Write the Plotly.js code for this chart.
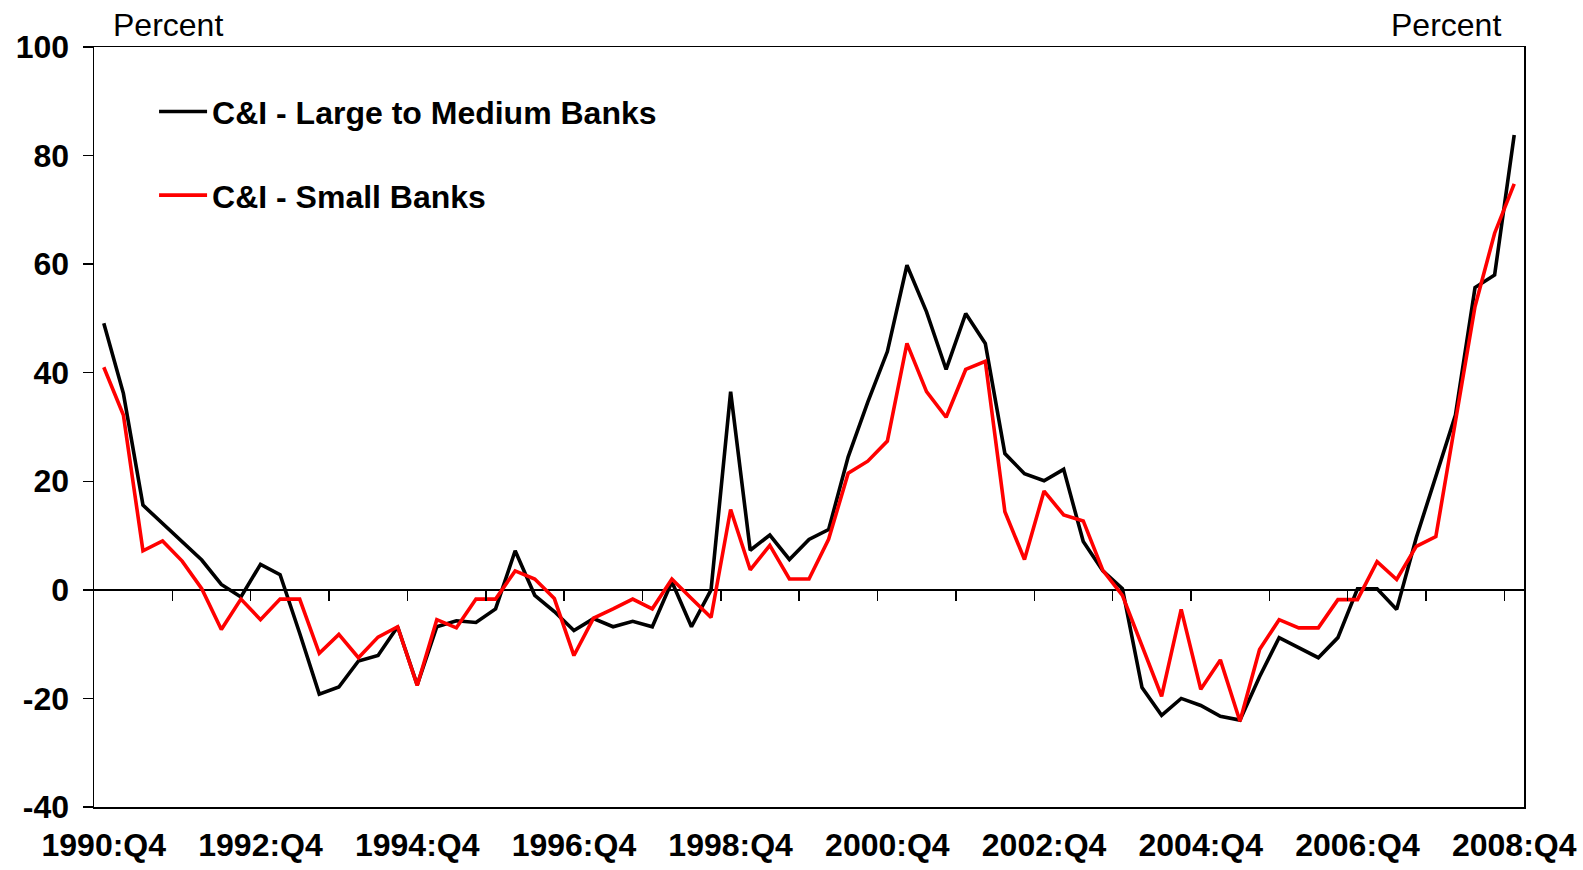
<!DOCTYPE html>
<html>
<head>
<meta charset="utf-8">
<script src="https://cdn.plot.ly/plotly-3.0.1.min.js"></script>
<style>
html,body{margin:0;padding:0;background:#fff;}
#chart{width:1583px;height:870px;}
</style>
</head>
<body>
<div id="chart"></div>
<script>
// Quarters 1990:Q4 ... 2008:Q4 (73 quarters)
var quarters = [];
(function(){
  var y = 1990, q = 4;
  for (var k = 0; k < 73; k++) {
    quarters.push(y + ':Q' + q);
    q++; if (q > 4) { q = 1; y++; }
  }
})();
var qIndex = quarters.map(function(_, i){ return i; });

var largeMedium = [
  49.1, 36.2, 15.6, 12.2, 8.8, 5.5, 1.0, -1.3, 4.7, 2.8,
  -8.0, -19.2, -17.9, -13.1, -12.1, -6.8, -17.5, -6.8, -5.7, -6.0,
  -3.5, 7.2, -1.0, -4.0, -7.5, -5.3, -6.8, -5.8, -6.8, 1.5,
  -6.8, 0.0, 36.5, 7.3, 10.1, 5.6, 9.3, 11.1, 24.5, 34.6,
  43.9, 59.8, 51.2, 40.6, 50.9, 45.4, 25.1, 21.4, 20.1, 22.2,
  8.9, 3.5, 0.2, -18.0, -23.1, -20.0, -21.3, -23.3, -24.0, -16.0,
  -8.8, -10.6, -12.5, -8.8, 0.2, 0.2, -3.6, 9.6, 21.0, 32.2,
  55.7, 58.0, 83.8
];
var small = [
  41.0, 32.2, 7.2, 9.0, 5.3, 0.2, -7.3, -1.7, -5.5, -1.7,
  -1.7, -11.7, -8.2, -12.5, -8.7, -6.8, -17.6, -5.5, -7.0, -1.7,
  -1.7, 3.5, 2.0, -1.6, -12.1, -5.2, -3.5, -1.7, -3.5, 2.0,
  -1.6, -5.1, 14.8, 3.7, 8.2, 2.0, 2.0, 9.3, 21.5, 23.7,
  27.4, 45.4, 36.5, 31.8, 40.6, 42.1, 14.4, 5.6, 18.2, 13.8,
  12.7, 3.6, -1.0, -10.5, -19.6, -3.6, -18.3, -12.9, -24.2, -11.0,
  -5.5, -7.0, -7.0, -1.8, -1.8, 5.2, 1.9, 8.0, 9.8, 31.0,
  52.2, 65.7, 74.8
];
var seriesNames = ['C&I - Large to Medium Banks', 'C&I - Small Banks'];
var seriesColors = ['#000000', '#ff0000'];

var yTickVals = [-40, -20, 0, 20, 40, 60, 80, 100];
var yTickText = ['-40', '-20', '0', '20', '40', '60', '80', '100'];

var labelIdx = [0, 8, 16, 24, 32, 40, 48, 56, 64, 72];
var labelText = labelIdx.map(function(i){ return quarters[i]; });
var minorTicks = [];
for (var t = 3.5; t < 72.5; t += 4) minorTicks.push(t);

var FONT = 'Arial, "Liberation Sans", sans-serif';

var traces = [
  {x: qIndex, y: largeMedium, type: 'scatter', mode: 'lines', name: seriesNames[0],
   text: quarters, line: {color: seriesColors[0], width: 3.6}, legendgroup: 'a'},
  {x: qIndex, y: small, type: 'scatter', mode: 'lines', name: seriesNames[1],
   text: quarters, line: {color: seriesColors[1], width: 3.6}, legendgroup: 'b'},
  {x: [], y: [], xaxis: 'x2', yaxis: 'y', type: 'scatter', mode: 'lines',
   showlegend: false, hoverinfo: 'skip'}
];

var layout = {
  width: 1583, height: 870,
  margin: {l: 94, r: 59, t: 47, b: 63},
  paper_bgcolor: '#ffffff', plot_bgcolor: '#ffffff',
  font: {family: FONT, color: '#000'},
  showlegend: true,
  legend: {
    x: 0.042, y: 0.951, xanchor: 'left', yanchor: 'top',
    bgcolor: 'rgba(0,0,0,0)',
    font: {family: FONT, size: 32, weight: 'bold', color: '#000'},
    tracegroupgap: 39, itemwidth: 48
  },
  xaxis: {
    range: [-0.5, 72.5], showgrid: false, zeroline: false,
    showline: true, linecolor: '#000', linewidth: 1.5, mirror: true,
    ticks: '', tickmode: 'array', tickvals: labelIdx, ticktext: labelText,
    tickfont: {family: FONT, size: 32, weight: 'bold', color: '#000'},
    ticklabelstandoff: 9
  },
  xaxis2: {
    range: [-0.5, 72.5], overlaying: 'x', anchor: 'free', position: 40/140,
    showgrid: false, zeroline: false, showline: false,
    ticks: 'outside', ticklen: 10, tickwidth: 1.5, tickcolor: '#000',
    tickmode: 'array', tickvals: minorTicks, showticklabels: false
  },
  yaxis: {
    range: [-40, 100], tickmode: 'array', tickvals: yTickVals, ticktext: yTickText,
    showgrid: false,
    zeroline: true, zerolinecolor: '#000', zerolinewidth: 1.5,
    showline: true, linecolor: '#000', linewidth: 1.5, mirror: true,
    ticks: 'outside', ticklen: 10, tickwidth: 1.5, tickcolor: '#000',
    tickfont: {family: FONT, size: 32, weight: 'bold', color: '#000'},
    ticklabelstandoff: 7
  },
  annotations: [
    {text: 'Percent', xref: 'paper', yref: 'paper', x: 0.0517, y: 1.0286,
     xanchor: 'center', yanchor: 'middle', showarrow: false,
     font: {family: FONT, size: 32, color: '#000'}},
    {text: 'Percent', xref: 'paper', yref: 'paper', x: 0.9455, y: 1.0286,
     xanchor: 'center', yanchor: 'middle', showarrow: false,
     font: {family: FONT, size: 32, color: '#000'}}
  ]
};

Plotly.newPlot('chart', traces, layout, {staticPlot: true, displayModeBar: false});
</script>
</body>
</html>
